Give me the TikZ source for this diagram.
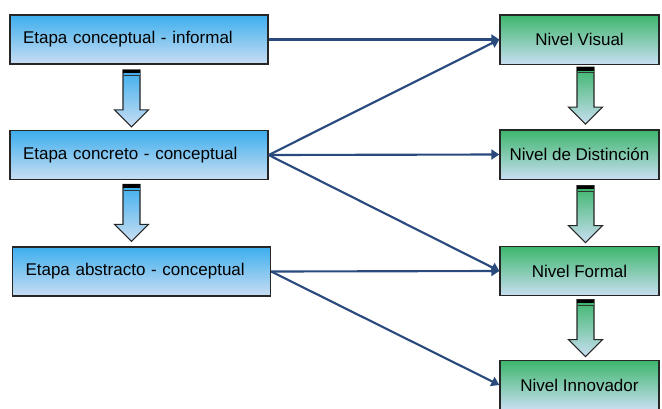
\documentclass[tikz,border=0pt]{standalone}
\usepackage{fontspec}
\setmainfont{Liberation Sans}
\usetikzlibrary{arrows.meta,calc,positioning}
\definecolor{azulfuerte}{HTML}{3DAEEE}
\definecolor{azulclaro}{HTML}{C9DEF2}
\definecolor{verdefuerte}{HTML}{3CB66C}
\definecolor{azulflecha}{HTML}{2A4A7E}
\tikzset{
    etapa/.style={draw=black!85, line width=1pt, top color=azulfuerte, bottom color=azulclaro,
        text width=174pt, align=left, inner xsep=9.75pt, inner ysep=0pt, minimum height=36.75pt,
        font=\fontsize{12.75}{15}\selectfont},
    nivel/.style={draw=black!85, line width=1pt, top color=verdefuerte, bottom color=azulclaro,
        minimum width=119.25pt, minimum height=37pt, inner sep=0pt,
        font=\fontsize{12.75}{15}\selectfont},
    enlace/.style={draw=azulflecha, line width=1.6pt, -{Triangle[length=6pt,width=7.5pt]}},
    pics/bajada/.style={code={
        \shade[top color=#1, bottom color=azulclaro, draw=black!85, line width=0.8pt]
            (0,0) -- (-17,17) -- (-8.5,17) -- (-8.5,57) -- (8.5,57) -- (8.5,17) -- (17,17) -- cycle;
        \fill[black] (-8.5,57) rectangle (8.5,53.5);
        \fill[#1] (-8,53.5) rectangle (8,51.8);
        \fill[black!80] (-8,51.8) rectangle (8,51);
    }}
}
\begin{document}
\begin{tikzpicture}[x=0.75pt, y=0.75pt]
    \useasboundingbox (0,0) rectangle (662,-408);
    \clip (0,0) rectangle (662,-408);

    % etapas
    \node[etapa] (e1) at (139,-39.5) {Etapa conceptual - informal};
    \node[etapa] (e2) at (139,-155) {Etapa concreto - conceptual};
    \node[etapa] (e3) at (141.5,-271.5) {Etapa abstracto - conceptual};

    % niveles
    \node[nivel] (n1) at (579.5,-39.5) {Nivel Visual};
    \node[nivel] (n2) at (579.5,-154.5) {Nivel de Distinción};
    \node[nivel] (n3) at (579.5,-271) {Nivel Formal};
    \node[nivel] (n4) at (579.5,-385) {Nivel Innovador};

    % flechas de bloque
    \pic at ($(e2.north)+(-7.5,3)$) {bajada=azulfuerte};
    \pic at ($(e3.north)+(-10,5)$) {bajada=azulfuerte};
    \pic at ($(n2.north)+(6,5)$) {bajada=verdefuerte};
    \pic at ($(n3.north)+(6,3)$) {bajada=verdefuerte};
    \pic at ($(n4.north)+(6,3)$) {bajada=verdefuerte};

    % enlaces
    \draw[enlace] (e1.east) -- (n1.west);
    \draw[enlace] (e2.east) -- (n1.west);
    \draw[enlace] (e2.east) -- (n2.west);
    \draw[enlace] (e2.east) -- (n3.west);
    \draw[enlace] (e3.east) -- (n3.west);
    \draw[enlace] (e3.east) -- (n4.west);
\end{tikzpicture}
\end{document}
